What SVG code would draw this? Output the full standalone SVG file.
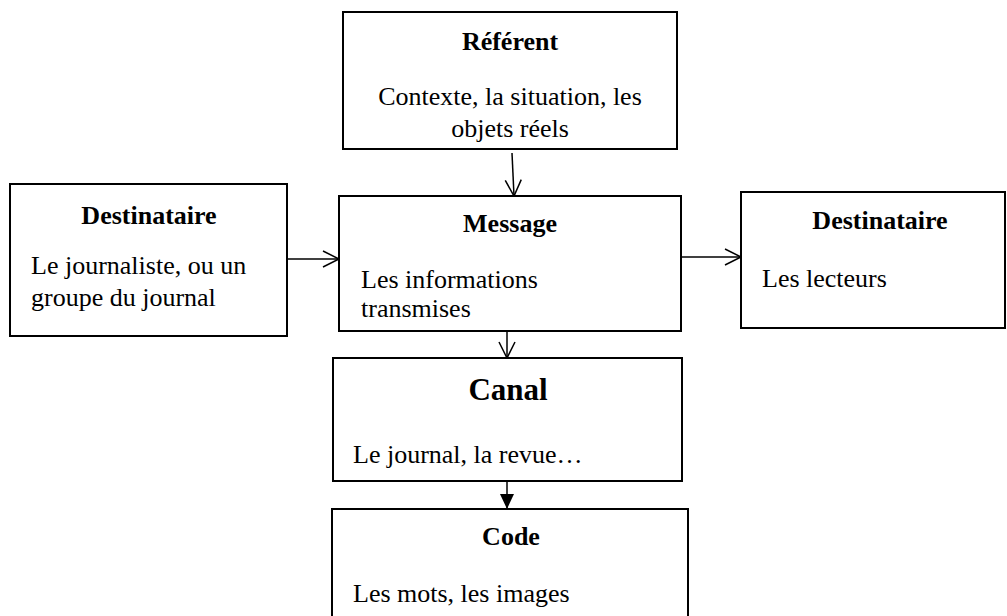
<svg xmlns="http://www.w3.org/2000/svg" width="1007" height="616" viewBox="0 0 1007 616">
<defs>
<style>
.box{fill:#fff;stroke:#000;stroke-width:2}
.t{font-family:"Liberation Serif","Times New Roman",serif;font-size:26px;fill:#000}
.b{font-weight:bold}
.c{text-anchor:middle}
.ln{stroke:#000;stroke-width:1.5;fill:none}
</style>
<marker id="open" viewBox="0 0 20 20" refX="18" refY="10" markerWidth="20" markerHeight="20" markerUnits="userSpaceOnUse" orient="auto">
<path d="M2,2 L18,10 L2,18" fill="none" stroke="#000" stroke-width="1.5"/>
</marker>
<marker id="filled" viewBox="0 0 16 16" refX="15" refY="8" markerWidth="16" markerHeight="16" markerUnits="userSpaceOnUse" orient="auto">
<path d="M0,1 L15,8 L0,15 Z" fill="#000"/>
</marker>
</defs>
<rect width="1007" height="616" fill="#fff"/>
<g id="connectors">
<line class="ln" x1="512" y1="153" x2="514" y2="196" marker-end="url(#open)"/>
<line class="ln" x1="287" y1="259" x2="339" y2="259" marker-end="url(#open)"/>
<line class="ln" x1="681" y1="257" x2="741" y2="257" marker-end="url(#open)"/>
<line class="ln" x1="507" y1="331" x2="507" y2="358" marker-end="url(#open)"/>
<line class="ln" x1="507" y1="481" x2="507" y2="509" marker-end="url(#filled)"/>
</g>
<g id="referent">
<rect class="box" x="343" y="12" width="334" height="137"/>
<text class="t b c" x="510" y="50">Référent</text>
<text class="t c" x="510" y="105">Contexte, la situation, les</text>
<text class="t c" x="510" y="137">objets réels</text>
</g>
<g id="destinataire-left">
<rect class="box" x="10" y="184" width="277" height="152"/>
<text class="t b c" x="149" y="224">Destinataire</text>
<text class="t" x="31" y="274">Le journaliste, ou un</text>
<text class="t" x="31" y="306">groupe du journal</text>
</g>
<g id="message">
<rect class="box" x="339" y="196" width="342" height="135"/>
<text class="t b c" x="510" y="232">Message</text>
<text class="t" x="361" y="288">Les informations</text>
<text class="t" x="361" y="317">transmises</text>
</g>
<g id="destinataire-right">
<rect class="box" x="741" y="192" width="264" height="136"/>
<text class="t b c" x="880" y="229">Destinataire</text>
<text class="t" x="762" y="287">Les lecteurs</text>
</g>
<g id="canal">
<rect class="box" x="333" y="358" width="349" height="123"/>
<text class="t b c" x="508" y="400" style="font-size:31px">Canal</text>
<text class="t" x="353" y="463">Le journal, la revue…</text>
</g>
<g id="code">
<rect class="box" x="332" y="509" width="356" height="130"/>
<text class="t b c" x="511" y="545">Code</text>
<text class="t" x="353" y="602">Les mots, les images</text>
</g>
</svg>
